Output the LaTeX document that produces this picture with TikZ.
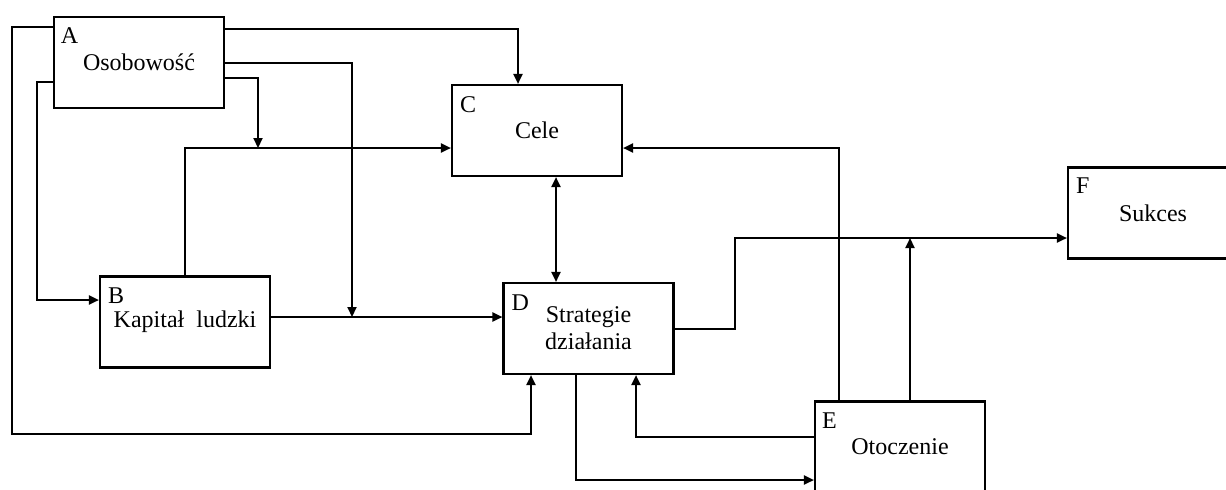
\documentclass[tikz,border=0pt]{standalone}
\usepackage{fontspec}
\setmainfont{Liberation Serif}
\usetikzlibrary{arrows.meta}

\begin{document}
\begin{tikzpicture}[x=0.5pt, y=-0.5pt, >={Triangle[length=5pt,width=4.5pt]}, line width=1.05pt,
    stage/.style={draw, minimum width=85pt, minimum height=45.5pt, inner sep=0pt, align=center, font=\fontsize{12}{13.5}\selectfont},
    tag/.style={anchor=north west, inner sep=0pt, font=\fontsize{12}{13}\selectfont}]
    \useasboundingbox (0,0) rectangle (1226,489);
    \node[stage] (A) at (139,62.5) {Osobowość};
    \node[stage] (B) at (185,322) {Kapitał\ \ ludzki};
    \node[stage] (C) at (537,130.5) {Cele};
    \node[stage] (D) at (588.5,328.5) {Strategie\\działania};
    \node[stage] (E) at (900,447) {Otoczenie};
    \node[stage] (F) at (1153,213) {Sukces};
    \node[tag] (A-tag) at ([shift={(7,11)}]A.north west) {A};
    \node[tag] (B-tag) at ([shift={(8,11)}]B.north west) {B};
    \node[tag] (C-tag) at ([shift={(8,12)}]C.north west) {C};
    \node[tag] (D-tag) at ([shift={(8,12)}]D.north west) {D};
    \node[tag] (E-tag) at ([shift={(7,11)}]E.north west) {E};
    \node[tag] (F-tag) at ([shift={(8,10)}]F.north west) {F};
    \coordinate (BC-join) at (258,148);
    \coordinate (BD-join) at (352,317);
    \coordinate (DF-join) at (910,238);
    \draw[->] (A.east |- 0,29) -| (518,0 |- C.north);
    \draw[->] (A.east |- 0,63) -| (BD-join);
    \draw[->] (A.east |- 0,78) -| (BC-join);
    \draw[->] (A.west |- 0,27) -| (12,434) -| (531,0 |- D.south);
    \draw[->] (A.west |- 0,82) -| (37,300) -- (B.west |- 0,300);
    \draw[->] (B.north) |- (C.west |- 0,148);
    \draw[->] (B.east |- 0,317) -- (D.west |- 0,317);
    \draw[<->] (556,0 |- C.south) -- (556,0 |- D.north);
    \draw[->] (839,0 |- E.north) |- (C.east |- 0,148);
    \draw[->] (D.east |- 0,329) -| (735,238) -- (F.west |- 0,238);
    \draw[->] (910,0 |- E.north) -- (DF-join);
    \draw[->] (576,0 |- D.south) |- (E.west |- 0,480);
    \draw[->] (E.west |- 0,437) -| (636,0 |- D.south);
\end{tikzpicture}
\end{document}
